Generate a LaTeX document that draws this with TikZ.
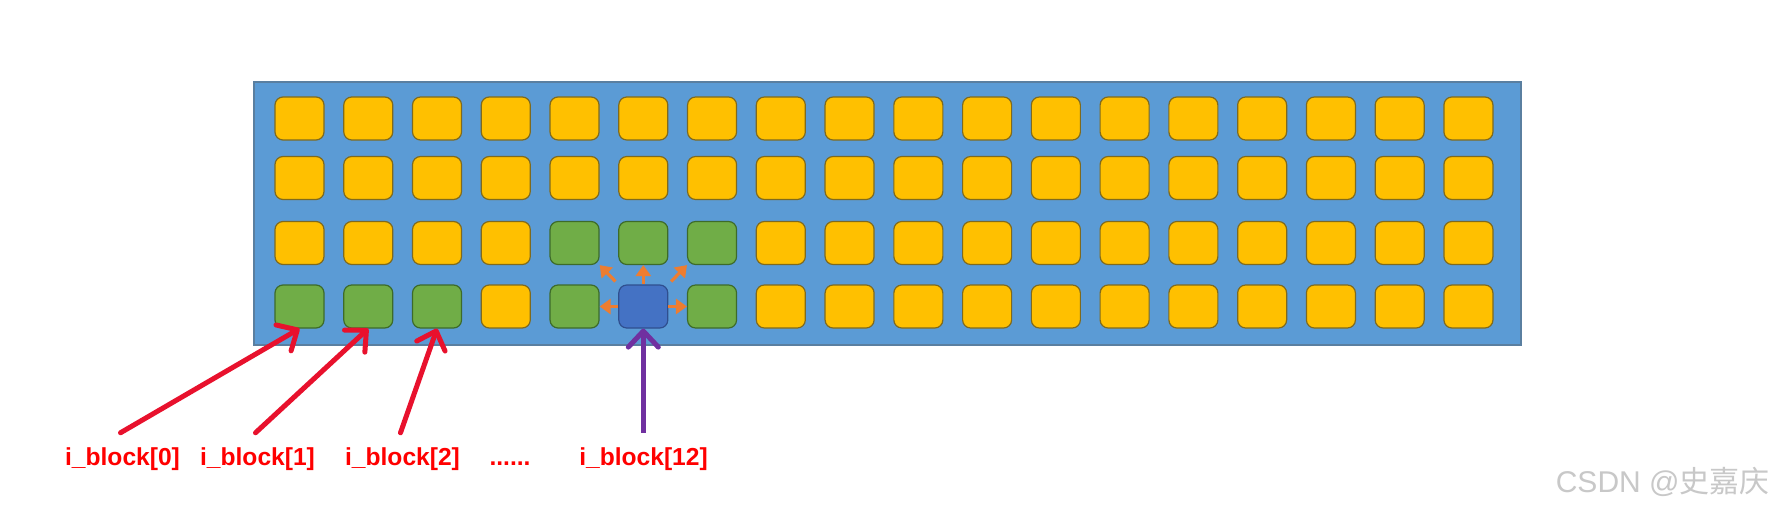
\documentclass[tikz,border=0pt]{standalone}
\usepackage{fontspec}
\setmainfont{Liberation Sans}
\newfontfamily\cjk{Noto Sans CJK SC}
\usetikzlibrary{arrows.meta}
\definecolor{panelfill}{HTML}{5B9BD5}
\definecolor{paneledge}{HTML}{5A7FA0}
\definecolor{ycell}{HTML}{FFC000}
\definecolor{yedge}{HTML}{7F6A1E}
\definecolor{gcell}{HTML}{70AD47}
\definecolor{gedge}{HTML}{3D6B2A}
\definecolor{bcell}{HTML}{4472C4}
\definecolor{bedge}{HTML}{2F4F8F}
\definecolor{orangearr}{HTML}{ED7D31}
\definecolor{redarr}{HTML}{E8112D}
\definecolor{purplearr}{HTML}{7030A0}
\definecolor{redtext}{HTML}{FF0000}
\definecolor{wmark}{HTML}{C8C8C8}
\tikzset{
  cell/.style={rectangle, rounded corners=4pt, minimum width=24.5pt, minimum height=21.5pt,
    inner sep=0pt, draw=yedge, fill=ycell, line width=0.6pt},
  greencell/.style={draw=gedge, fill=gcell},
  bluecell/.style={draw=bedge, fill=bcell},
  cell-3-4/.style={greencell}, cell-3-5/.style={greencell}, cell-3-6/.style={greencell},
  cell-4-0/.style={greencell}, cell-4-1/.style={greencell}, cell-4-2/.style={greencell},
  cell-4-4/.style={greencell}, cell-4-6/.style={greencell},
  cell-4-5/.style={bluecell},
  spread/.style={draw=orangearr, line width=1.6pt, -{Triangle[length=5.5pt,width=7.5pt]}},
  pointer/.style={draw=redarr, line width=2.5pt, line cap=round,
    -{Straight Barb[length=8pt,width=15pt,line width=2.5pt,round]}},
  current/.style={draw=purplearr, line width=2.5pt,
    -{Straight Barb[length=8pt,width=15pt,line width=2.5pt,round]}},
  lab/.style={text=redtext, font=\fontsize{12.3pt}{14pt}\selectfont\bfseries, inner sep=0pt, anchor=base},
}
\begin{document}
\begin{tikzpicture}[x=0.5pt,y=-0.5pt]
\useasboundingbox (0,0) rectangle (1776,513);
\fill[white] (0,0) rectangle (1776,513);
\draw[draw=paneledge, fill=panelfill, line width=0.6pt] (254,82) rectangle (1521,345);
\foreach \r/\y in {1/118.5,2/178,3/243,4/306.5}{
  \foreach \c in {0,...,17}{
    \node[cell, cell-\r-\c/.try] (b-\r-\c) at ({299.5+68.76*\c},\y) {};
  }
}
% spreading arrows
\draw[spread] (b-4-5.west) -- (b-4-4.east);
\draw[spread] (b-4-5.east) -- (b-4-6.west);
\draw[spread] (b-4-5.north) -- (b-3-5.south);
\draw[spread, shorten <=2pt] (b-4-5.north west) -- (b-3-4.south east);
\draw[spread, shorten <=2pt] (b-4-5.north east) -- (b-3-6.south west);
% labels
\node[lab] (l0) at (122.5,465) {i\_block[0]};
\node[lab] (l1) at (257.5,465) {i\_block[1]};
\node[lab] (l2) at (402.5,465) {i\_block[2]};
\node[lab] (ld) at (510,465) {......};
\node[lab] (l12) at (643.5,465) {i\_block[12]};
% pointers
\draw[pointer] ([xshift=-1pt,yshift=7pt]l0.north) -- (b-4-0.south);
\draw[pointer] ([xshift=-1pt,yshift=7pt]l1.north) -- (b-4-1.south);
\draw[pointer] ([xshift=-1pt,yshift=7pt]l2.north) -- (b-4-2.south);
\draw[current] ([yshift=7pt]b-4-5.south |- l12.north) -- (b-4-5.south);
% watermark
\node[text=wmark, font=\fontsize{15pt}{17pt}\selectfont, inner sep=0pt, anchor=base east] (wm) at (1770,492) {CSDN @{\cjk 史嘉庆}};
\end{tikzpicture}
\end{document}
